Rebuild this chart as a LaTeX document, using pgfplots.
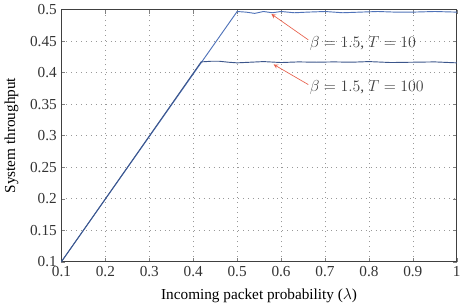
\documentclass[border=0pt]{standalone}
\usepackage{pgfplots}
\pgfplotsset{compat=1.18}
\usepackage{fontspec}
\setmainfont{Liberation Serif}
\definecolor{lineblue}{RGB}{80,115,185}
\definecolor{arrred}{RGB}{232,96,76}
\begin{document}
\begin{tikzpicture}
\begin{axis}[
  scale only axis,
  width=298pt, height=190pt,
  xmin=0.1, xmax=1, ymin=0.1, ymax=0.5,
  xtick={0.1,0.2,0.3,0.4,0.5,0.6,0.7,0.8,0.9,1},
  ytick={0.1,0.15,0.2,0.25,0.3,0.35,0.4,0.45,0.5},
  xticklabels={0.1,0.2,0.3,0.4,0.5,0.6,0.7,0.8,0.9,1},
  yticklabels={0.1,0.15,0.2,0.25,0.3,0.35,0.4,0.45,0.5},
  tick align=inside,
  major tick length=3pt,
  grid=major,
  major grid style={dash pattern=on 0.7pt off 3pt, gray!80},
  axis line style={black!75, line width=0.8pt},
  xlabel={Incoming packet probability ($\lambda$)},
  ylabel={System throughput},
  label style={font=\fontsize{11.5}{13}\selectfont},
  tick label style={font=\fontsize{11.5}{13}\selectfont, text=black!80},
  xlabel style={yshift=-2pt},
  ylabel style={yshift=2pt},
  /pgf/number format/assume math mode=true,
  clip=false,
]
\addplot[lineblue, line width=0.7pt] coordinates {
 (0.1,0.1) (0.5,0.497) (0.52,0.496) (0.54,0.494) (0.56,0.497) (0.58,0.495)
 (0.6,0.497) (0.63,0.495) (0.66,0.496) (0.7,0.497) (0.74,0.495) (0.78,0.496)
 (0.82,0.497) (0.86,0.496) (0.9,0.496) (0.95,0.497) (1,0.496)
};
\addplot[lineblue!75!black, line width=0.7pt] coordinates {
 (0.1,0.1) (0.418,0.417) (0.44,0.418) (0.46,0.418) (0.48,0.4165) (0.5,0.4155)
 (0.53,0.4165) (0.56,0.4175) (0.6,0.416) (0.64,0.417) (0.68,0.4165) (0.72,0.417)
 (0.76,0.4165) (0.8,0.4175) (0.85,0.416) (0.9,0.4165) (0.95,0.417) (1,0.4155)
};
\draw[arrred, ->, >=stealth, line width=0.5pt] (axis cs:0.662,0.452) -- (axis cs:0.578,0.493);
\draw[arrred, ->, >=stealth, line width=0.5pt] (axis cs:0.662,0.381) -- (axis cs:0.583,0.413);
\node[anchor=west, inner sep=0pt, text=black!75, font=\fontsize{11.5}{13}\selectfont] at (axis cs:0.665,0.446) {$\beta = 1.5$, $T = 10$};
\node[anchor=west, inner sep=0pt, text=black!75, font=\fontsize{11.5}{13}\selectfont] at (axis cs:0.665,0.376) {$\beta = 1.5$, $T = 100$};
\end{axis}
\end{tikzpicture}
\end{document}
